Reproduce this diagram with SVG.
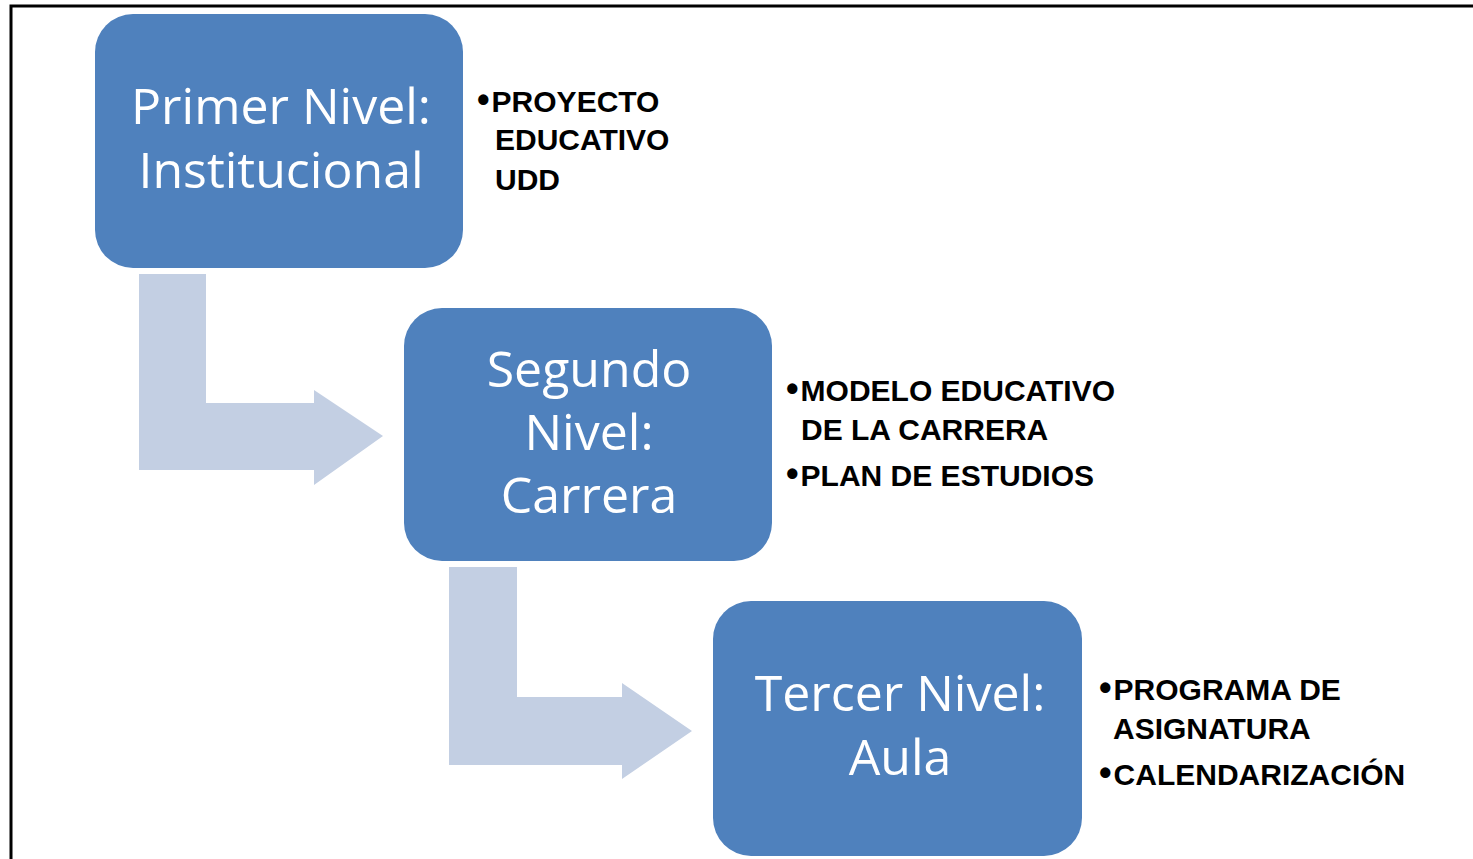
<svg xmlns="http://www.w3.org/2000/svg" width="1473" height="859" viewBox="0 0 1473 859">
<style>
.box{fill:#4f81bd}
.arr{fill:#c3cfe3}
.t{font-family:"Open Sans","Liberation Sans",sans-serif;font-size:50px;fill:#ffffff;text-anchor:middle}
.b{font-family:"Liberation Sans",Arial,sans-serif;font-weight:bold;font-size:30px;fill:#000000}
.d{font-size:36px}
</style>
<rect width="1473" height="859" fill="#ffffff"/>
<path d="M11 859 V6 H1473" fill="none" stroke="#000" stroke-width="3"/>
<g id="connectors">
<path class="arr" d="M139 274 H206 V403 H314 V390 L383 436 L314 485 V470 H139 Z"/>
<path class="arr" d="M449 567 H517 V697 H622 V683 L692 731 L622 779 V765 H449 Z"/>
</g>
<g id="node1">
<rect class="box" x="95" y="14" width="368" height="254" rx="38"/>
<text class="t" x="281" y="124">Primer Nivel:</text>
<text class="t" x="281" y="188">Institucional</text>
</g>
<g id="node2">
<rect class="box" x="404" y="308" width="368" height="253" rx="38"/>
<text class="t" x="589" y="387">Segundo</text>
<text class="t" x="589" y="450">Nivel:</text>
<text class="t" x="589" y="513">Carrera</text>
</g>
<g id="node3">
<rect class="box" x="713" y="601" width="369" height="255" rx="38"/>
<text class="t" x="900" y="711">Tercer Nivel:</text>
<text class="t" x="900" y="775">Aula</text>
</g>
<g id="notes1">
<text class="b" x="477" y="112"><tspan class="d">•</tspan><tspan dx="2">PROYECTO</tspan></text>
<text class="b" x="495" y="150">EDUCATIVO</text>
<text class="b" x="495" y="190">UDD</text>
</g>
<g id="notes2">
<text class="b" x="786" y="401"><tspan class="d">•</tspan><tspan dx="2">MODELO EDUCATIVO</tspan></text>
<text class="b" x="801" y="440">DE LA CARRERA</text>
<text class="b" x="786" y="486"><tspan class="d">•</tspan><tspan dx="2">PLAN DE ESTUDIOS</tspan></text>
</g>
<g id="notes3">
<text class="b" x="1099" y="700"><tspan class="d">•</tspan><tspan dx="2">PROGRAMA DE</tspan></text>
<text class="b" x="1113" y="739">ASIGNATURA</text>
<text class="b" x="1099" y="785"><tspan class="d">•</tspan><tspan dx="2">CALENDARIZACIÓN</tspan></text>
</g>
</svg>
